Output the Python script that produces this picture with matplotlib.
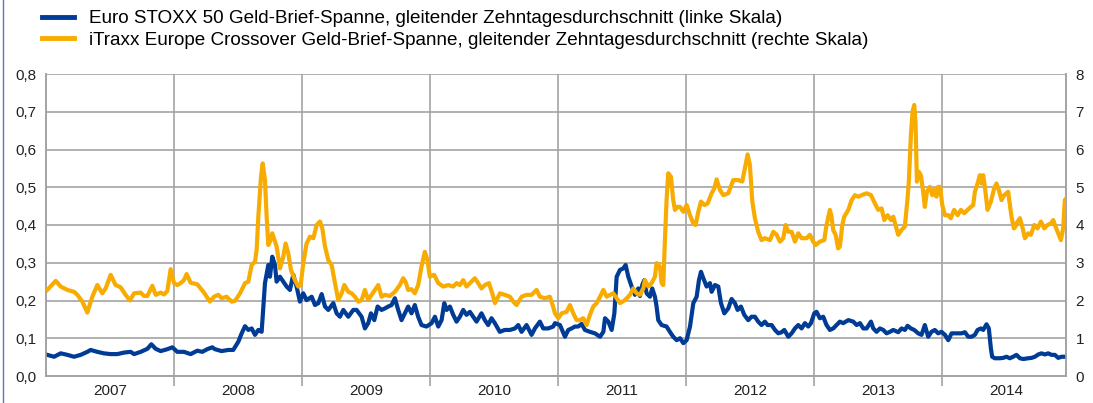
import matplotlib
matplotlib.use("Agg")
import matplotlib.pyplot as plt
from matplotlib.lines import Line2D
from matplotlib.ticker import FixedLocator, NullFormatter, FixedFormatter

plt.rcParams["font.family"] = ["Liberation Sans", "DejaVu Sans"]

# Euro STOXX 50 bid-ask spread, 10-day moving average (left scale)
estoxx_t = [
    2007.010, 2007.063, 2007.115, 2007.167, 2007.219, 2007.271, 2007.323, 2007.349, 2007.401, 2007.453,
    2007.505, 2007.557, 2007.609, 2007.661, 2007.688, 2007.740, 2007.792, 2007.823, 2007.857, 2007.896,
    2007.948, 2007.987, 2008.026, 2008.078, 2008.130, 2008.182, 2008.221, 2008.260, 2008.299,
    2008.320, 2008.372, 2008.424, 2008.463, 2008.503, 2008.529, 2008.555, 2008.581, 2008.607, 2008.633,
    2008.659, 2008.685, 2008.711, 2008.737, 2008.750, 2008.768, 2008.789, 2008.802, 2008.828, 2008.854,
    2008.880, 2008.906, 2008.932, 2008.958, 2008.984, 2009.010, 2009.036, 2009.076, 2009.102, 2009.128,
    2009.154, 2009.180, 2009.206, 2009.245, 2009.271, 2009.297, 2009.323, 2009.362, 2009.401, 2009.427,
    2009.466, 2009.492, 2009.518, 2009.539, 2009.565, 2009.591, 2009.622,
    2009.648, 2009.674, 2009.700, 2009.726, 2009.752, 2009.778, 2009.804, 2009.830, 2009.856, 2009.882,
    2009.908, 2009.934, 2009.973, 2010.013, 2010.039, 2010.065, 2010.091, 2010.112, 2010.130, 2010.156,
    2010.182, 2010.208, 2010.234, 2010.260, 2010.286, 2010.312, 2010.338, 2010.364, 2010.403, 2010.429,
    2010.455, 2010.481, 2010.507, 2010.546, 2010.585, 2010.625, 2010.664, 2010.690, 2010.716, 2010.755,
    2010.794, 2010.820, 2010.859, 2010.885, 2010.924, 2010.963,
    2010.977, 2011.016, 2011.055, 2011.081, 2011.107, 2011.133, 2011.159, 2011.185, 2011.211, 2011.250,
    2011.289, 2011.329, 2011.355, 2011.368, 2011.394, 2011.420, 2011.441, 2011.459, 2011.485, 2011.511,
    2011.529, 2011.550, 2011.576, 2011.602, 2011.628, 2011.641, 2011.659, 2011.675, 2011.693, 2011.719,
    2011.737, 2011.758, 2011.771, 2011.784, 2011.810, 2011.849, 2011.875, 2011.901, 2011.928, 2011.954,
    2011.980, 2012.006, 2012.032, 2012.058, 2012.084, 2012.102, 2012.118, 2012.136, 2012.162, 2012.188,
    2012.201, 2012.227, 2012.253, 2012.274, 2012.300,
    2012.331, 2012.357, 2012.383, 2012.404, 2012.430, 2012.456, 2012.487, 2012.513, 2012.539, 2012.565,
    2012.591, 2012.617, 2012.638, 2012.670, 2012.696, 2012.722, 2012.748, 2012.769, 2012.800, 2012.826,
    2012.852, 2012.878, 2012.904, 2012.930, 2012.956, 2012.977, 2013.003, 2013.021, 2013.047, 2013.073,
    2013.099, 2013.125, 2013.151, 2013.177, 2013.203, 2013.229, 2013.269, 2013.308, 2013.334, 2013.360,
    2013.386, 2013.412, 2013.446, 2013.464, 2013.490, 2013.516, 2013.542, 2013.568, 2013.594, 2013.620,
    2013.659, 2013.685, 2013.711, 2013.732, 2013.758, 2013.784, 2013.815, 2013.841, 2013.867, 2013.893,
    2013.919, 2013.945, 2013.971, 2013.997, 2014.024, 2014.050, 2014.076, 2014.102, 2014.128, 2014.154,
    2014.180, 2014.206, 2014.232, 2014.258, 2014.279, 2014.305, 2014.323, 2014.349, 2014.367, 2014.383,
    2014.393, 2014.414, 2014.453, 2014.479, 2014.505, 2014.531, 2014.557, 2014.583, 2014.610, 2014.636,
    2014.675, 2014.701, 2014.727, 2014.753, 2014.779, 2014.805, 2014.831, 2014.857, 2014.883, 2014.909,
    2014.935, 2014.972,
]
estoxx_v = [
    0.056, 0.051, 0.060, 0.056, 0.051, 0.056, 0.064, 0.069, 0.064, 0.060,
    0.058, 0.058, 0.062, 0.064, 0.058, 0.064, 0.072, 0.084, 0.072, 0.066,
    0.071, 0.076, 0.064, 0.064, 0.058, 0.067, 0.064, 0.071, 0.076,
    0.071, 0.066, 0.069, 0.069, 0.091, 0.113, 0.132, 0.122, 0.126, 0.109,
    0.122, 0.117, 0.246, 0.294, 0.263, 0.316, 0.294, 0.250, 0.263, 0.250,
    0.237, 0.228, 0.268, 0.237, 0.197, 0.219, 0.201, 0.210, 0.188, 0.193,
    0.217, 0.184, 0.175, 0.193, 0.166, 0.157, 0.175, 0.157, 0.175, 0.175,
    0.157, 0.126, 0.140, 0.166, 0.148, 0.184, 0.175,
    0.179, 0.184, 0.188, 0.206, 0.175, 0.148, 0.166, 0.184, 0.166, 0.188,
    0.157, 0.135, 0.131, 0.140, 0.157, 0.131, 0.148, 0.193, 0.175, 0.184,
    0.162, 0.144, 0.157, 0.175, 0.162, 0.170, 0.157, 0.144, 0.166, 0.148,
    0.135, 0.153, 0.140, 0.117, 0.122, 0.122, 0.126, 0.135, 0.117, 0.135,
    0.109, 0.126, 0.144, 0.126, 0.126, 0.131,
    0.140, 0.135, 0.104, 0.122, 0.126, 0.131, 0.131, 0.138, 0.122, 0.117,
    0.113, 0.104, 0.117, 0.153, 0.144, 0.122, 0.166, 0.263, 0.281, 0.285,
    0.294, 0.263, 0.237, 0.215, 0.232, 0.212, 0.241, 0.254, 0.219, 0.210,
    0.232, 0.210, 0.184, 0.148, 0.135, 0.131, 0.117, 0.104, 0.095, 0.100,
    0.087, 0.095, 0.131, 0.193, 0.210, 0.254, 0.276, 0.259, 0.237, 0.246,
    0.223, 0.241, 0.237, 0.193, 0.166,
    0.179, 0.204, 0.193, 0.175, 0.184, 0.162, 0.148, 0.157, 0.157, 0.144,
    0.135, 0.144, 0.135, 0.135, 0.122, 0.113, 0.116, 0.122, 0.104, 0.113,
    0.126, 0.135, 0.126, 0.140, 0.131, 0.140, 0.166, 0.170, 0.153, 0.157,
    0.135, 0.122, 0.126, 0.135, 0.144, 0.140, 0.148, 0.144, 0.135, 0.140,
    0.126, 0.126, 0.144, 0.126, 0.117, 0.126, 0.122, 0.113, 0.117, 0.122,
    0.116, 0.126, 0.122, 0.133, 0.126, 0.122, 0.113, 0.109, 0.135, 0.104,
    0.117, 0.122, 0.113, 0.117, 0.109, 0.095, 0.113, 0.113, 0.113, 0.113,
    0.116, 0.104, 0.104, 0.109, 0.122, 0.126, 0.122, 0.137, 0.126, 0.073,
    0.051, 0.047, 0.047, 0.048, 0.051, 0.047, 0.051, 0.056, 0.047, 0.045,
    0.047, 0.048, 0.051, 0.057, 0.060, 0.057, 0.060, 0.056, 0.056, 0.048,
    0.051, 0.051,
]

# iTraxx Europe Crossover bid-ask spread, 10-day moving average (right scale)
itraxx_t = [
    2007.010, 2007.076, 2007.115, 2007.167, 2007.219, 2007.245, 2007.284, 2007.323, 2007.362, 2007.401,
    2007.440, 2007.466, 2007.505, 2007.544, 2007.583, 2007.622, 2007.656, 2007.688, 2007.740, 2007.766,
    2007.792, 2007.831, 2007.857, 2007.896, 2007.922, 2007.948, 2007.974, 2008.000, 2008.026, 2008.052,
    2008.078, 2008.099, 2008.130, 2008.182, 2008.234, 2008.281, 2008.313,
    2008.346, 2008.372, 2008.411, 2008.450, 2008.477, 2008.516, 2008.555, 2008.581, 2008.607, 2008.633,
    2008.646, 2008.659, 2008.680, 2008.693, 2008.711, 2008.724, 2008.737, 2008.750, 2008.768, 2008.789,
    2008.802, 2008.828, 2008.854, 2008.872, 2008.893, 2008.914, 2008.945, 2008.971, 2008.990, 2009.010,
    2009.036, 2009.063, 2009.089, 2009.115, 2009.141, 2009.159, 2009.180, 2009.206, 2009.232, 2009.258,
    2009.284, 2009.310, 2009.331, 2009.362, 2009.388, 2009.414, 2009.440, 2009.466, 2009.492, 2009.518,
    2009.544, 2009.570, 2009.596, 2009.622,
    2009.648, 2009.687, 2009.726, 2009.765, 2009.791, 2009.809, 2009.830, 2009.856, 2009.882, 2009.908,
    2009.934, 2009.960, 2009.981, 2009.999, 2010.033, 2010.065, 2010.104, 2010.143, 2010.182, 2010.208,
    2010.234, 2010.260, 2010.286, 2010.325, 2010.351, 2010.377, 2010.403, 2010.429, 2010.461, 2010.487,
    2010.508, 2010.547, 2010.586, 2010.625, 2010.651, 2010.677, 2010.716, 2010.755, 2010.794, 2010.833,
    2010.859, 2010.898, 2010.937, 2010.963,
    2010.977, 2011.003, 2011.029, 2011.068, 2011.094, 2011.120, 2011.146, 2011.172, 2011.198, 2011.224,
    2011.250, 2011.276, 2011.303, 2011.329, 2011.355, 2011.381, 2011.407, 2011.433, 2011.459, 2011.485,
    2011.524, 2011.563, 2011.589, 2011.615, 2011.641, 2011.667, 2011.680, 2011.706, 2011.732, 2011.758,
    2011.771, 2011.797, 2011.810, 2011.823, 2011.836, 2011.849, 2011.862, 2011.883, 2011.901, 2011.914,
    2011.935, 2011.954, 2011.980, 2012.006, 2012.032, 2012.058, 2012.076, 2012.097, 2012.118, 2012.144,
    2012.170, 2012.201, 2012.222, 2012.240, 2012.266, 2012.292,
    2012.331, 2012.370, 2012.409, 2012.440, 2012.461, 2012.482, 2012.500, 2012.519, 2012.539, 2012.565,
    2012.591, 2012.617, 2012.657, 2012.683, 2012.709, 2012.735, 2012.761, 2012.779, 2012.800, 2012.826,
    2012.852, 2012.878, 2012.904, 2012.943, 2012.969, 2012.995, 2013.013, 2013.047, 2013.081, 2013.099,
    2013.125, 2013.138, 2013.151, 2013.170, 2013.190, 2013.203, 2013.222, 2013.237, 2013.269, 2013.295,
    2013.321, 2013.347, 2013.373, 2013.412, 2013.446, 2013.477, 2013.503, 2013.529, 2013.550, 2013.576,
    2013.602, 2013.620,
    2013.659, 2013.685, 2013.711, 2013.732, 2013.742, 2013.758, 2013.771, 2013.784, 2013.794, 2013.805,
    2013.820, 2013.836, 2013.854, 2013.867, 2013.883, 2013.906, 2013.925, 2013.940, 2013.958, 2013.971,
    2013.987, 2014.003, 2014.024, 2014.050, 2014.070, 2014.096, 2014.123, 2014.149, 2014.175, 2014.201,
    2014.227, 2014.245, 2014.258, 2014.279, 2014.297, 2014.310, 2014.323, 2014.336, 2014.357, 2014.383,
    2014.409, 2014.427, 2014.445, 2014.466, 2014.487, 2014.518, 2014.544, 2014.563, 2014.576, 2014.591,
    2014.610, 2014.628, 2014.649, 2014.675, 2014.696, 2014.722, 2014.748, 2014.774, 2014.800, 2014.826,
    2014.852, 2014.870, 2014.888, 2014.909, 2014.930, 2014.948, 2014.961, 2014.972,
]
itraxx_v = [
    2.28, 2.52, 2.37, 2.28, 2.23, 2.15, 1.97, 1.68, 2.10, 2.41,
    2.19, 2.32, 2.68, 2.41, 2.35, 2.15, 2.00, 2.19, 2.21, 2.12,
    2.12, 2.39, 2.15, 2.21, 2.16, 2.25, 2.83, 2.46, 2.41, 2.46,
    2.54, 2.70, 2.47, 2.43, 2.21, 1.97, 2.10,
    2.15, 2.06, 2.10, 1.97, 1.99, 2.19, 2.46, 2.50, 2.94, 3.03,
    3.34, 4.22, 5.28, 5.63, 5.19, 4.22, 3.47, 3.56, 3.78, 3.56,
    3.43, 2.85, 3.16, 3.51, 3.25, 2.81, 2.54, 2.37, 2.41, 2.98,
    3.51, 3.69, 3.65, 4.00, 4.09, 3.91, 3.43, 3.07, 2.94, 2.46,
    2.01, 2.19, 2.41, 2.23, 2.19, 2.10, 1.97, 2.01, 2.28, 2.01,
    2.15, 2.28, 2.41, 2.10,
    2.15, 2.12, 2.23, 2.41, 2.59, 2.50, 2.28, 2.30, 2.19, 2.41,
    2.90, 3.29, 3.07, 2.63, 2.68, 2.46, 2.37, 2.41, 2.37, 2.46,
    2.41, 2.54, 2.37, 2.50, 2.59, 2.46, 2.32, 2.41, 2.46, 2.19,
    1.93, 2.19, 2.15, 2.10, 1.97, 1.88, 2.10, 2.15, 2.15, 2.28,
    2.10, 2.06, 2.10, 1.83,
    1.66, 1.53, 1.66, 1.70, 1.88, 1.66, 1.48, 1.48, 1.53, 1.35,
    1.62, 1.84, 1.93, 2.10, 2.28, 2.10, 2.15, 2.19, 2.06, 1.93,
    2.01, 2.15, 2.32, 2.19, 2.15, 2.32, 2.54, 2.37, 2.46, 2.63,
    2.99, 2.90, 2.46, 2.41, 3.60, 4.66, 5.37, 5.28, 4.66, 4.40,
    4.48, 4.48, 4.35, 4.53, 4.26, 4.04, 4.00, 4.35, 4.62, 4.53,
    4.57, 4.84, 4.97, 5.21, 4.93, 4.79,
    4.84, 5.19, 5.19, 5.15, 5.50, 5.87, 5.59, 4.62, 4.18, 3.82,
    3.60, 3.65, 3.60, 3.82, 3.74, 3.56, 3.65, 4.00, 3.82, 3.82,
    3.56, 3.78, 3.65, 3.65, 3.74, 3.56, 3.47, 3.56, 3.60, 4.00,
    4.40, 4.22, 3.87, 3.74, 3.38, 3.43, 4.00, 4.22, 4.40, 4.66,
    4.79, 4.75, 4.79, 4.84, 4.79, 4.57, 4.40, 4.44, 4.13, 4.26,
    4.13, 4.22,
    3.74, 3.87, 3.96, 4.71, 5.15, 6.38, 7.00, 7.18, 6.74, 5.15,
    5.41, 5.32, 4.88, 4.48, 4.88, 5.01, 4.79, 4.93, 4.75, 5.01,
    5.01, 4.53, 4.26, 4.26, 4.18, 4.40, 4.26, 4.40, 4.31, 4.40,
    4.48, 4.53, 4.88, 5.10, 5.32, 5.10, 5.32, 5.01, 4.40, 4.62,
    4.97, 5.10, 4.93, 4.66, 4.79, 4.88, 4.22, 3.91, 3.96, 4.09,
    4.18, 3.96, 3.65, 3.78, 3.74, 4.00, 3.91, 4.09, 3.91, 4.00,
    4.04, 4.13, 3.96, 3.78, 3.60, 3.91, 4.66, 4.71,
]

years = [2007, 2008, 2009, 2010, 2011, 2012, 2013, 2014]
left_ticks = [0.0, 0.1, 0.2, 0.3, 0.4, 0.5, 0.6, 0.7, 0.8]
right_ticks = [0, 1, 2, 3, 4, 5, 6, 7, 8]

label_blue = "Euro STOXX 50 Geld-Brief-Spanne, gleitender Zehntagesdurchschnitt (linke Skala)"
label_orange = "iTraxx Europe Crossover Geld-Brief-Spanne, gleitender Zehntagesdurchschnitt (rechte Skala)"

BLUE = "#003b95"
ORANGE = "#f8ab00"
GRID = "#a3a3a3"

fig = plt.figure(figsize=(10.93, 4.03), dpi=100)
ax = fig.add_axes([46 / 1093, 1 - 376 / 403, (1066 - 46) / 1093, (376 - 74) / 403])
ax2 = ax.twinx()

ax.plot(estoxx_t, estoxx_v, color=BLUE, lw=3.0, solid_joinstyle="round", zorder=3)
ax2.plot(itraxx_t, itraxx_v, color=ORANGE, lw=3.0, solid_joinstyle="round", zorder=3)

ax.set_xlim(2007.0, 2014.97)
ax.set_ylim(0, 0.8)
ax2.set_ylim(0, 8)

ax.set_yticks(left_ticks)
ax.set_yticklabels([f"{v:.1f}".replace(".", ",") for v in left_ticks])
ax2.set_yticks(right_ticks)
ax2.set_yticklabels([str(v) for v in right_ticks])

ax.xaxis.set_major_locator(FixedLocator([y + 1 for y in years[:-1]]))
ax.xaxis.set_major_formatter(NullFormatter())
ax.xaxis.set_minor_locator(FixedLocator([y + 0.5 for y in years]))
ax.xaxis.set_minor_formatter(FixedFormatter([str(y) for y in years]))
ax.tick_params(axis="x", which="major", length=7, width=1.2, color=GRID, direction="out")
ax.tick_params(axis="x", which="minor", length=0, labelsize=11, pad=6, labelcolor="#222222")
ax.tick_params(axis="y", length=0, labelsize=11, pad=7, labelcolor="#222222")
ax2.tick_params(axis="y", length=0, labelsize=11, pad=7, labelcolor="#222222")

ax.grid(True, which="major", color=GRID, lw=1.2)
ax.set_axisbelow(True)
for a in (ax, ax2):
    a.spines["top"].set_visible(False)
    for s in ("left", "right", "bottom"):
        a.spines[s].set_color(GRID)
        a.spines[s].set_linewidth(1.2)

handles = [Line2D([], [], color=BLUE, lw=3.5), Line2D([], [], color=ORANGE, lw=3.5)]
fig.legend(handles, [label_blue, label_orange], loc="upper left",
           bbox_to_anchor=(42 / 1093, 1 - 10 / 403), frameon=False, fontsize=13.6,
           handlelength=1.72, handletextpad=0.78, labelspacing=0.22,
           borderpad=0, borderaxespad=0)

fig.add_artist(Line2D([0.0025, 0.0025], [0, 1], color="#5577bb", lw=1.0))

fig.savefig("out.png", dpi=100)
